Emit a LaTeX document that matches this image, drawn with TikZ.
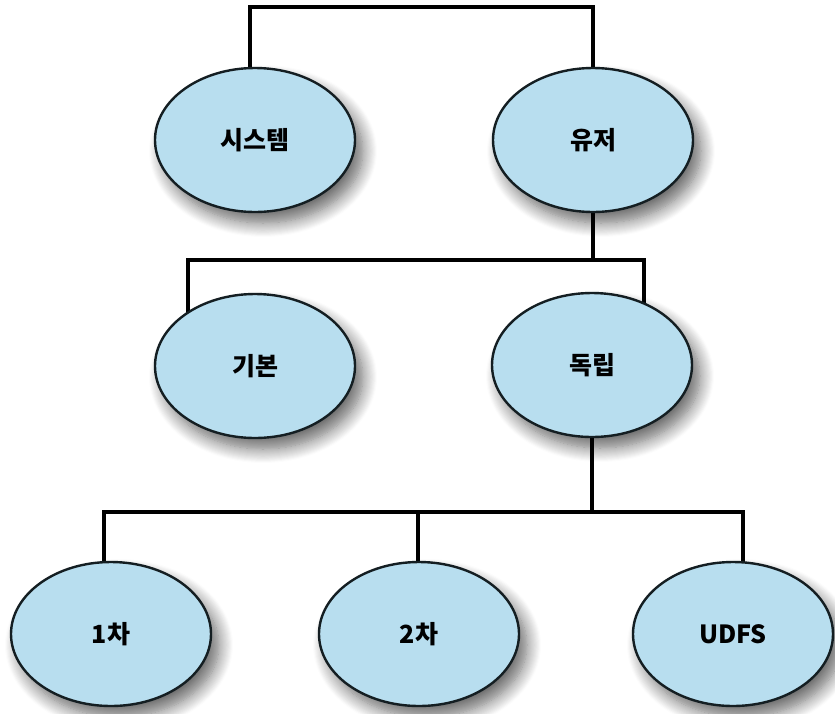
\documentclass[tikz,border=0pt]{standalone}
\usepackage{fontspec}
\setmainfont{Noto Sans CJK KR}
\usetikzlibrary{positioning,shapes.geometric,shadows.blur,backgrounds}
\definecolor{aspfill}{HTML}{B8DEEF}
\definecolor{aspline}{HTML}{141E22}
\tikzset{
  asp/.style ={ellipse, draw=aspline, line width=2.4pt, fill=aspfill,
               minimum width=200pt, minimum height=144pt, inner sep=0pt,
               font=\fontsize{25}{28}\selectfont\bfseries,
               blur shadow={shadow xshift=8pt, shadow yshift=-11pt,
                            shadow blur steps=14, shadow blur radius=14pt,
                            shadow opacity=60}},
  link/.style={line width=4pt, black}
}

\begin{document}
\begin{tikzpicture}[x=1pt, y=-1pt]
\useasboundingbox (0,0) rectangle (835,713);
% pools
\node[asp] (sys)    at (255,140) {시스템};
\node[asp] (user)   at (593,140) {유저};
\node[asp] (basic)  at (255,366) {기본};
\node[asp] (indep)  at (592,365) {독립};
\node[asp] (prim)   at (111,634) {1차};
\node[asp] (sec)    at (419,634) {2차};
\node[asp] (udfs)   at (733,634) {UDFS};
% bars
\coordinate (t1) at (250,7);
\coordinate (t2) at (593,7);
\coordinate (m1) at (188,260);
\coordinate (m2) at (644,260);
\coordinate (b1) at (104,512);
\coordinate (b2) at (418,512);
\coordinate (b3) at (743,512);
\begin{scope}[on background layer]
  \draw[link] (t1 |- sys.center) -- (t1) -- (t2) -- (t2 |- user.center);
  \draw[link] (user) -- (user |- m1);
  \draw[link] (m1 |- basic.center) -- (m1) -- (m2) -- (m2 |- indep.center);
  \draw[link] (indep) -- (indep |- b1);
  \draw[link] (b1 |- prim.center) -- (b1) -- (b3) -- (b3 |- udfs.center);
  \draw[link] (b2) -- (b2 |- sec.center);
\end{scope}
\end{tikzpicture}
\end{document}
